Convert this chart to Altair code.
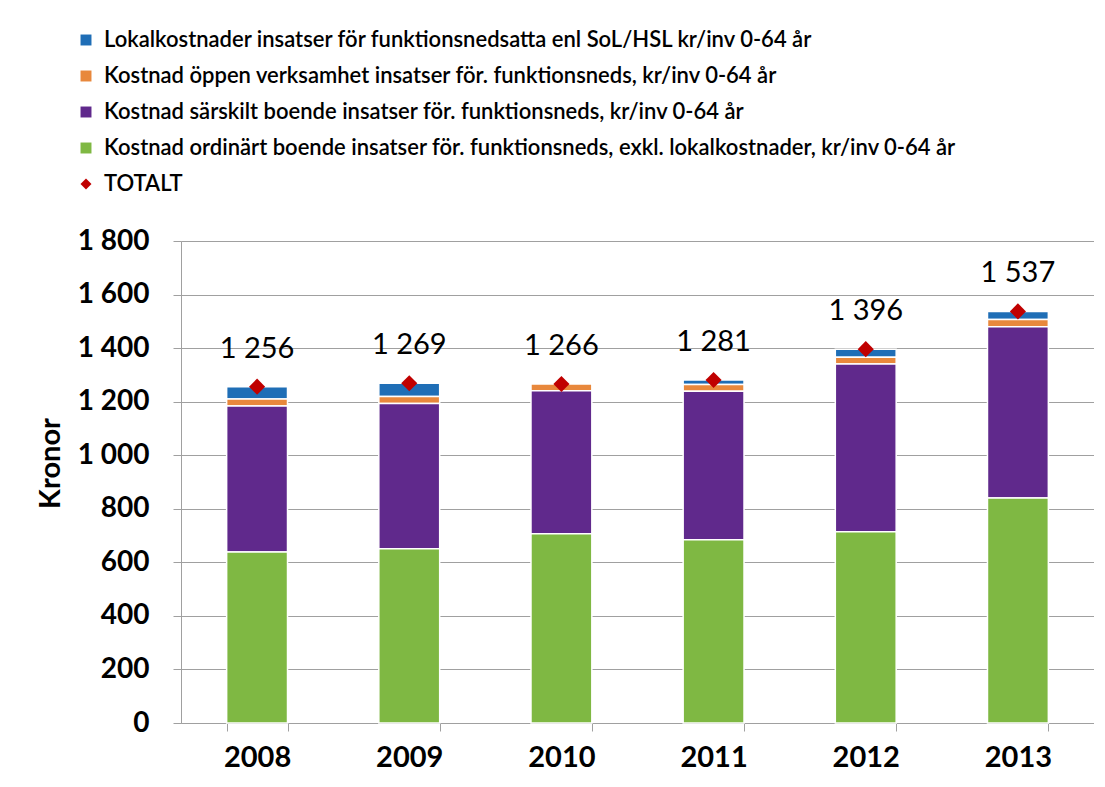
import altair as alt
import pandas as pd

years = ["2008", "2009", "2010", "2011", "2012", "2013"]
series = [
    "Lokalkostnader insatser för funktionsnedsatta enl SoL/HSL kr/inv 0-64 år",
    "Kostnad öppen verksamhet insatser för. funktionsneds, kr/inv 0-64 år",
    "Kostnad särskilt boende insatser för. funktionsneds, kr/inv 0-64 år",
    "Kostnad ordinärt boende insatser för. funktionsneds, exkl. lokalkostnader, kr/inv 0-64 år",
]
total_name = "TOTALT"
lokal = [46, 50, 0, 17, 30, 30]
oppen = [26, 26, 25, 25, 25, 27]
sarskilt = [545, 542, 534, 555, 627, 640]
ordinart = [639, 651, 707, 684, 714, 840]
totals = [1256, 1269, 1266, 1281, 1396, 1537]
total_labels = ["1 256", "1 269", "1 266", "1 281", "1 396", "1 537"]

colors = ["#1F6EB6", "#E8883C", "#60298C", "#7FB843", "#C00000"]

rows = []
for i, y in enumerate(years):
    for s, vals, o in zip(series, [lokal, oppen, sarskilt, ordinart], [4, 3, 2, 1]):
        rows.append({"year": y, "series": s, "value": vals[i], "order": o})
bars_df = pd.DataFrame(rows)
tot_df = pd.DataFrame({"year": years, "total": totals, "label": total_labels,
                       "series": [total_name] * len(years)})

FONT = "Lato"
domain = series + [total_name]

color_scale = alt.Scale(domain=domain, range=colors)
shape_scale = alt.Scale(domain=domain, range=["square", "square", "square", "square", "diamond"])

x_enc = alt.X("year:N", sort=years, title=None,
              scale=alt.Scale(paddingInner=0.6, paddingOuter=0.3),
              axis=alt.Axis(labelAngle=0, labelFontSize=29, labelFont=FONT, labelFontWeight="bold",
                            labelColor="#000000", labelPadding=12, tickBand="extent", ticks=True,
                            tickSize=8, tickColor="#A0A0A0", domainColor="#A0A0A0", grid=False))

legend = alt.Legend(orient="none", legendX=-106, legendY=-212, title=None, labelFontSize=22,
                    labelFont=FONT, labelFontWeight=600, labelColor="#000000", labelLimit=1000,
                    symbolSize=120, rowPadding=14, symbolStrokeWidth=0, labelOffset=7)

bars = alt.Chart(bars_df).mark_bar(stroke="white", strokeWidth=1.5).encode(
    x=x_enc,
    y=alt.Y("value:Q", stack="zero", title="Kronor",
            scale=alt.Scale(domain=[0, 1800], nice=False),
            axis=alt.Axis(values=list(range(0, 1801, 200)), labelFontSize=28, labelFont=FONT,
                          labelFontWeight="bold", labelColor="#000000", labelPadding=24,
                          labelExpr="replace(format(datum.value, ','), ',', ' ')",
                          tickSize=8, tickColor="#A0A0A0", domainColor="#A0A0A0",
                          gridColor="#A0A0A0", gridWidth=1.2,
                          titleFontSize=29, titleFont=FONT, titleFontWeight="bold",
                          titleColor="#000000", titlePadding=12, titleY=222)),
    color=alt.Color("series:N", scale=color_scale, legend=legend),
    order=alt.Order("order:Q", sort="ascending"),
)

points = alt.Chart(tot_df).mark_point(filled=True, size=260, opacity=1).encode(
    x=alt.X("year:N", sort=years),
    y=alt.Y("total:Q"),
    color=alt.Color("series:N", scale=color_scale, legend=legend),
    shape=alt.Shape("series:N", scale=shape_scale, legend=legend),
)

labels = alt.Chart(tot_df).mark_text(dy=-38, fontSize=29, font=FONT, color="#000000").encode(
    x=alt.X("year:N", sort=years),
    y=alt.Y("total:Q"),
    text="label:N",
)

chart = alt.layer(bars, points, labels).properties(
    width=913, height=482,
    autosize=alt.AutoSizeParams(type="none"),
    padding={"left": 173, "top": 233, "right": 0, "bottom": 56},
).configure_view(stroke=None).configure(background="white")

chart.save("out.html", embed_options={"renderer": "svg", "actions": False})
